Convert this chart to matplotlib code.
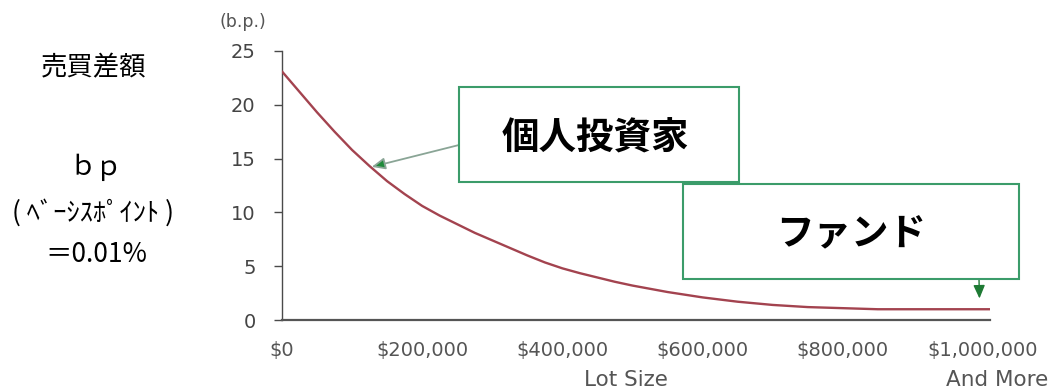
import numpy as np
import matplotlib
matplotlib.use("Agg")
import matplotlib.pyplot as plt
from matplotlib.patches import Rectangle

# Bid/ask spread (basis points) by trade lot size (USD)
lot_size = [0, 25_000, 50_000, 75_000, 100_000, 125_000, 150_000, 175_000,
            200_000, 225_000, 250_000, 275_000, 300_000, 325_000, 350_000,
            375_000, 400_000, 425_000, 450_000, 475_000, 500_000, 550_000,
            600_000, 650_000, 700_000, 750_000, 800_000, 850_000, 900_000,
            950_000, 1_010_000]
spread_bp = [23.1, 21.2, 19.3, 17.5, 15.8, 14.3, 12.9, 11.7,
             10.6, 9.7, 8.9, 8.1, 7.4, 6.7, 6.0,
             5.35, 4.8, 4.35, 3.95, 3.55, 3.2, 2.6,
             2.1, 1.7, 1.4, 1.2, 1.1, 1.0, 1.0,
             1.0, 1.0]

x_ticks = [0, 200_000, 400_000, 600_000, 800_000, 1_000_000]
x_tick_labels = ["$0", "$200,000", "$400,000", "$600,000", "$800,000", "$1,000,000"]
y_ticks = [0, 5, 10, 15, 20, 25]

W, H, DPI = 1053, 389, 100
fig = plt.figure(figsize=(W / DPI, H / DPI), dpi=DPI)
fig.patch.set_facecolor("white")

def fx(px):
    return px / W

def fy(py):
    return 1 - py / H

ax = fig.add_axes([fx(282), fy(320), fx(990) - fx(282), fy(51) - fy(320)])
ax.plot(lot_size, spread_bp, color="#a3434f", lw=1.7, solid_capstyle="round",
        solid_joinstyle="round", zorder=3)

ax.set_xlim(0, 1_010_000)
ax.set_ylim(0, 25)
ax.set_xticks(x_ticks)
ax.set_xticklabels(x_tick_labels)
ax.set_yticks(y_ticks)
for s in ("top", "right"):
    ax.spines[s].set_visible(False)
ax.spines["left"].set_color("#4a4a4a")
ax.spines["left"].set_linewidth(1.0)
ax.spines["bottom"].set_color("#555555")
ax.spines["bottom"].set_linewidth(1.6)
ax.tick_params(axis="y", direction="out", length=6, width=1.0, color="#4a4a4a",
               labelsize=14, labelcolor="#444444", pad=13)
ax.tick_params(axis="x", length=0, labelsize=14, labelcolor="#555555", pad=15)
for lab in ax.get_xticklabels() + ax.get_yticklabels():
    lab.set_family("DejaVu Sans")

# axis captions
fig.text(fx(243), fy(22), "(b.p.)", ha="center", va="center", fontsize=12.5,
         color="#555555", family="DejaVu Sans")
fig.text(fx(626), fy(380), "Lot Size", ha="center", va="center", fontsize=15.5,
         color="#555555", family="DejaVu Sans")
fig.text(fx(997), fy(380), "And More", ha="center", va="center", fontsize=15.5,
         color="#555555", family="DejaVu Sans")

# left-hand explanatory text
jp = ["Noto Sans CJK JP", "DejaVu Sans"]
fig.text(fx(94), fy(68), "売買差額", ha="center", va="center", fontsize=19,
         family=jp, color="black")
fig.text(fx(96), fy(167), "ｂｐ", ha="center", va="center", fontsize=19,
         family=jp, color="black")
fig.text(fx(93), fy(213), "( ﾍﾞｰｼｽﾎﾟｲﾝﾄ )", ha="center", va="center", fontsize=19,
         family=jp, color="black")
fig.text(fx(96), fy(255), "＝0.01%", ha="center", va="center", fontsize=19,
         family=jp, color="black")

# callout boxes
box_green = "#3b9c6a"
def callout(x0, y0, x1, y1, label, tx, ty, size):
    r = Rectangle((fx(x0), fy(y1)), fx(x1) - fx(x0), fy(y0) - fy(y1),
                  transform=fig.transFigure, facecolor="white",
                  edgecolor=box_green, lw=1.5, zorder=5)
    fig.patches.append(r)
    fig.text(fx(tx), fy(ty), label, ha="center", va="center", fontsize=size,
             fontweight="bold", family=jp, color="black", zorder=6)

callout(459, 87, 739, 182, "個人投資家", 595, 138, 27)
callout(683, 184, 1019, 279, "ファンド", 851, 234, 27)

# arrows from the boxes to the curve
retail_x = 128_000
retail_y = float(np.interp(retail_x, lot_size, spread_bp)) + 0.1
ax.annotate("", xy=(retail_x, retail_y), xycoords="data",
            xytext=(fx(459), fy(145)), textcoords="figure fraction",
            arrowprops=dict(arrowstyle="-|>,head_length=0.8,head_width=0.35",
                            ec="#8aa596", fc="#1e8a3a", lw=1.3,
                            shrinkA=0, shrinkB=0), zorder=4)

fund_x = 995_000
fund_y = float(np.interp(fund_x, lot_size, spread_bp)) + 1.0
ax.annotate("", xy=(fund_x, fund_y), xycoords="data",
            xytext=(fx(979), fy(279)), textcoords="figure fraction",
            arrowprops=dict(arrowstyle="-|>,head_length=0.8,head_width=0.35",
                            ec="#1e7a34", fc="#1e7a34", lw=1.0,
                            shrinkA=0, shrinkB=0), zorder=4)

fig.savefig("out.png", dpi=DPI, facecolor="white")
